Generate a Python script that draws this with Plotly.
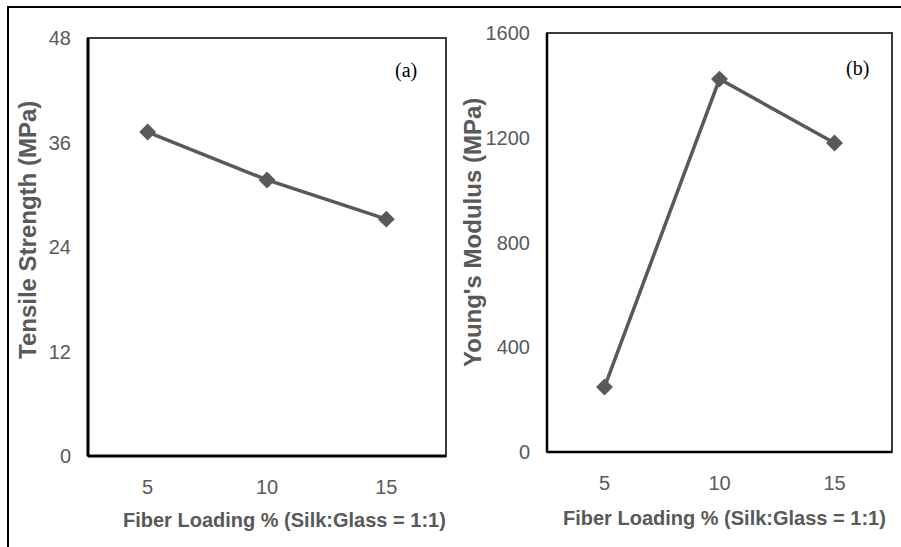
import plotly.graph_objects as go

# ---- data ----
fiber_loading = [5, 10, 15]
tensile_strength = [37.2, 31.7, 27.2]
youngs_modulus = [248, 1424, 1180]
x_ticks = [5, 10, 15]
y_ticks_a = [0, 12, 24, 36, 48]
y_ticks_b = [0, 400, 800, 1200, 1600]
x_title = "Fiber Loading % (Silk:Glass = 1:1)"
y_title_a = "Tensile Strength (MPa)"
y_title_b = "Young's Modulus (MPa)"
panel_labels = ["(a)", "(b)"]

W, H = 901, 547
def px(x):
    return x / W
def py(y):
    return 1 - y / H

GRAY = "#595959"
LINE = "#595959"
TICKFONT = dict(family="Liberation Sans, Arial, sans-serif", size=20, color=GRAY)

fig = go.Figure()
fig.add_trace(go.Scatter(x=fiber_loading, y=tensile_strength, mode="lines+markers",
                         line=dict(color=LINE, width=3.5),
                         marker=dict(symbol="diamond", size=13, color=LINE),
                         xaxis="x", yaxis="y", showlegend=False, cliponaxis=False))
fig.add_trace(go.Scatter(x=fiber_loading, y=youngs_modulus, mode="lines+markers",
                         line=dict(color=LINE, width=3.5),
                         marker=dict(symbol="diamond", size=13, color=LINE),
                         xaxis="x2", yaxis="y2", showlegend=False, cliponaxis=False))

# panel geometry (pixels)
A = dict(l=88, t=38, r=446, b=456)
B = dict(l=547, t=33, r=892, b=452)

common_x = dict(range=[2.5, 17.5], tickvals=x_ticks, showgrid=False, zeroline=False,
                showline=False, ticks="", tickfont=TICKFONT, ticklabelstandoff=17,
                automargin=False)
common_y = dict(showgrid=False, zeroline=False, showline=False, ticks="",
                tickfont=TICKFONT, ticklabelstandoff=16, automargin=False)

fig.update_layout(
    width=W, height=H,
    margin=dict(l=0, r=0, t=0, b=0, pad=0, autoexpand=False),
    paper_bgcolor="white", plot_bgcolor="white",
    xaxis=dict(domain=[px(A["l"]), px(A["r"])], anchor="y", **common_x),
    yaxis=dict(domain=[py(A["b"]), py(A["t"])], anchor="x", range=[0, 48],
               tickvals=y_ticks_a, **common_y),
    xaxis2=dict(domain=[px(B["l"]), px(B["r"])], anchor="y2", **common_x),
    yaxis2=dict(domain=[py(B["b"]), py(B["t"])], anchor="x2", range=[0, 1600],
                tickvals=y_ticks_b, **common_y),
)

shapes = []
# outer frame (top and left visible)
shapes.append(dict(type="rect", xref="paper", yref="paper",
                   x0=px(8), x1=px(905), y0=py(552), y1=py(7),
                   line=dict(color="black", width=2), fillcolor="rgba(0,0,0,0)"))
for P, bw in ((A, 3), (B, 2.5)):
    shapes.append(dict(type="rect", xref="paper", yref="paper",
                       x0=px(P["l"]), x1=px(P["r"]), y0=py(P["b"]), y1=py(P["t"]),
                       line=dict(color="#3a3a3a", width=2), fillcolor="rgba(0,0,0,0)"))
    shapes.append(dict(type="line", xref="paper", yref="paper",
                       x0=px(P["l"]), x1=px(P["l"]), y0=py(P["b"]), y1=py(P["t"]),
                       line=dict(color="black", width=bw)))
    shapes.append(dict(type="line", xref="paper", yref="paper",
                       x0=px(P["l"]), x1=px(P["r"]), y0=py(P["b"]), y1=py(P["b"]),
                       line=dict(color="black", width=bw)))
fig.update_layout(shapes=shapes)

TITLEFONT_X = dict(family="Liberation Sans, Arial, sans-serif", size=20, color=GRAY)
TITLEFONT_Y = dict(family="Liberation Sans, Arial, sans-serif", size=24, color=GRAY)
LABELFONT = dict(family="Liberation Serif, Times New Roman, serif", size=20, color="black")

ann = [
    dict(text="<b>%s</b>" % x_title, x=px(284), y=py(520), font=TITLEFONT_X),
    dict(text="<b>%s</b>" % x_title, x=px(724), y=py(518), font=TITLEFONT_X),
    dict(text="<b>%s</b>" % y_title_a, x=px(28), y=py(230), font=TITLEFONT_Y, textangle=-90),
    dict(text="<b>%s</b>" % y_title_b, x=px(473), y=py(232), font=TITLEFONT_Y, textangle=-90),
    dict(text=panel_labels[0], x=px(406), y=py(71), font=LABELFONT),
    dict(text=panel_labels[1], x=px(857), y=py(68), font=LABELFONT),
]
for a in ann:
    a.update(xref="paper", yref="paper", showarrow=False, xanchor="center", yanchor="middle")
fig.update_layout(annotations=ann)

fig.write_html("out.html")
